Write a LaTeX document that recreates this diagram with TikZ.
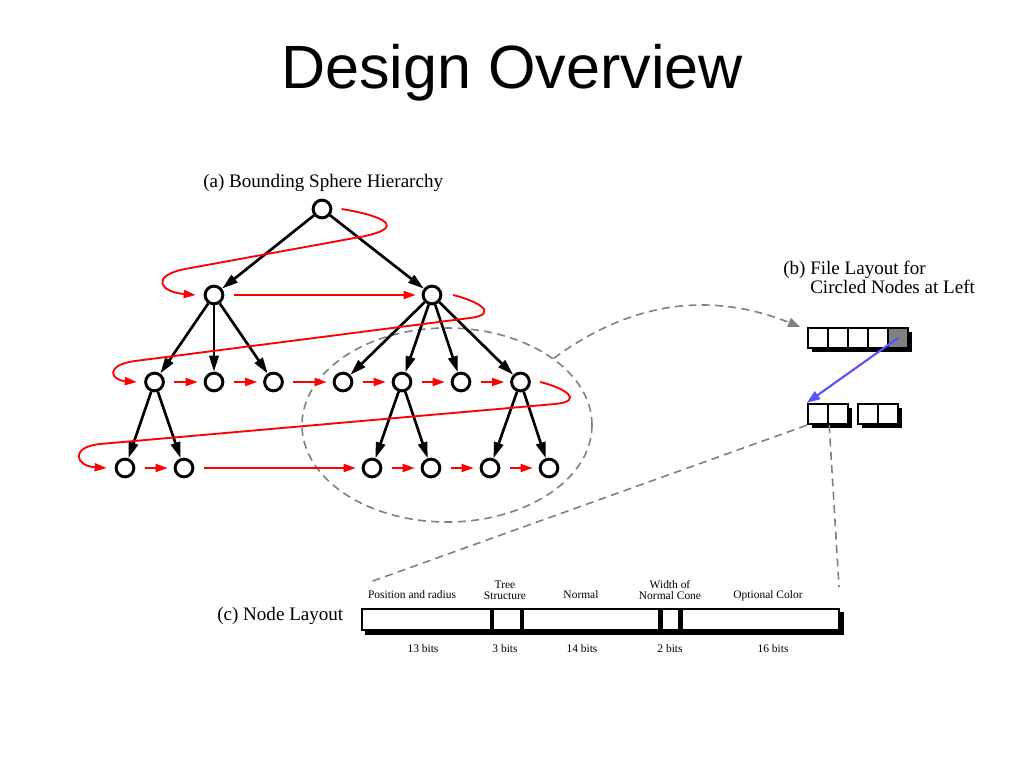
\documentclass[tikz,border=0pt]{standalone}
\usepackage{fontspec}
\setmainfont{Liberation Serif}
\newfontfamily\headfont{Liberation Sans}
\usetikzlibrary{arrows.meta,positioning,shapes.geometric,shadows,backgrounds}
\definecolor{linkblue}{RGB}{85,85,250}
\definecolor{guidegray}{RGB}{128,128,128}

\begin{document}
\begin{tikzpicture}[x=0.75pt,y=-0.75pt]
\tikzset{
  sphere/.style={circle,draw,line width=2.2pt,minimum size=13.3pt,inner sep=0pt},
  child/.style={line width=2pt,-{Triangle[length=12pt,width=7pt]}},
  order/.style={red,line width=1.4pt,-{Triangle[length=9pt,width=6pt]},shorten <=7pt,shorten >=4.5pt},
  wrap/.style={red,line width=1.4pt,-{Triangle[length=9pt,width=6pt]}},
  cell/.style={draw,fill=white,line width=1.8pt,minimum size=15pt,inner sep=0pt,
    general shadow={fill=black,shadow xshift=3pt,shadow yshift=-3pt}},
  field/.style={draw,fill=white,line width=1.6pt,minimum height=15.75pt,inner sep=0pt},
  caption/.style={font=\fontsize{14.3}{15}\selectfont,inner sep=0pt},
  small/.style={font=\fontsize{8.6}{8.3}\selectfont,inner sep=0pt,align=center},
  guide/.style={guidegray,line width=1.2pt,dash pattern=on 6pt off 4pt}
}
\useasboundingbox (0,0) rectangle (1024,768);

\node[font=\headfont\fontsize{45.8}{50}\selectfont,anchor=base,inner sep=0pt] (title) at (512,88) {Design Overview};

\node[caption,anchor=base west] (capa) at (203,187) {(a) Bounding Sphere Hierarchy};
\node[caption,anchor=base west] (capb) at (783,274) {(b) File Layout for};
\node[caption,anchor=base west] (capb2) at (810,293) {Circled Nodes at Left};
\node[caption,anchor=base west] (capc) at (217,620) {(c) Node Layout};

\node[ellipse,draw,guide,minimum width=217.5pt,minimum height=145.5pt,inner sep=0pt] (circled) at (447,425) {};

\node[sphere] (root) at (322,209) {};
\node[sphere] (l1a) at (214,295) {};
\node[sphere] (l1b) at (432,295) {};
\foreach \n/\x in {a/154.5,b/214,c/273.5,d/343,e/402,f/461,g/520.5}
  \node[sphere] (l2\n) at (\x,382) {};
\foreach \n/\x in {a/125,b/184,c/372,d/431,e/490,f/549}
  \node[sphere] (l3\n) at (\x,468) {};

\foreach \p/\c in {root/l1a,root/l1b,l1a/l2a,l1a/l2b,l1a/l2c,l1b/l2d,l1b/l2e,l1b/l2f,l1b/l2g,
    l2a/l3a,l2a/l3b,l2e/l3c,l2e/l3d,l2g/l3e,l2g/l3f}
  \draw[child] (\p) -- (\c);

\foreach \a/\b in {l1a/l1b,l2a/l2b,l2b/l2c,l2c/l2d,l2d/l2e,l2e/l2f,l2f/l2g,
    l3a/l3b,l3b/l3c,l3c/l3d,l3d/l3e,l3e/l3f}
  \draw[order] (\a) -- (\b);

\draw[wrap] ([xshift=7pt]root.east) .. controls (385,216) and (408,228) .. (360,237)
  -- (185,269) .. controls (150,276) and (160,292) .. ([xshift=-6pt]l1a.west);
\draw[wrap] ([xshift=8pt]l1b.east) .. controls (478,301) and (500,314) .. (470,318)
  -- (135,361) .. controls (105,365) and (110,380) .. ([xshift=-5.5pt]l2a.west);
\draw[wrap] ([xshift=7pt]l2g.east) .. controls (565,388) and (585,401) .. (555,404)
  -- (100,444) .. controls (70,447) and (75,466) .. ([xshift=-6pt]l3a.west);

\foreach \n/\x in {1/818,2/838,3/858,4/878}
  \node[cell] (r1c\n) at (\x,338) {};
\node[cell,fill=guidegray] (r1c5) at (898,338) {};
\foreach \n/\x in {1/818,2/838,3/868,4/888}
  \node[cell] (r2c\n) at (\x,414) {};

\draw[guide,-{Triangle[length=9pt,width=7pt]}] (circled.32) .. controls (640,295) and (720,295) .. ([xshift=-5pt]r1c1.north west);
\draw[linkblue,line width=1.6pt,-{Triangle[length=10pt,width=7pt]}] (r1c5.center) -- (r2c1.north west);

\node[field,minimum width=96.75pt,anchor=west] (pos) at (361,619.5) {};
\node[field,minimum width=21pt,right=0pt of pos] (tree) {};
\node[field,minimum width=102pt,right=0pt of tree] (normal) {};
\node[field,minimum width=13.5pt,right=0pt of normal] (cone) {};
\node[field,minimum width=117.75pt,right=0pt of cone] (color) {};
\begin{scope}[on background layer]
  \fill ([xshift=3pt,yshift=-3pt]pos.north west) rectangle ([xshift=3pt,yshift=-3pt]color.south east);
\end{scope}

\coordinate (layoutL) at (370,582);
\coordinate (layoutR) at (839,587);
\draw[guide] (r2c1.south west) -- (layoutL);
\draw[guide] (r2c1.south east) -- (layoutR);

\node[small,anchor=base] at (412,598) {Position and radius};
\node[small,anchor=south] at (505,600) {Tree\\Structure};
\node[small,anchor=base] at (581,598) {Normal};
\node[small,anchor=south] at (670,600) {Width of\\Normal Cone};
\node[small,anchor=base] at (768,598) {Optional Color};

\node[small,anchor=base] at (423,652) {13 bits};
\node[small,anchor=base] at (505,652) {3 bits};
\node[small,anchor=base] at (582,652) {14 bits};
\node[small,anchor=base] at (670,652) {2 bits};
\node[small,anchor=base] at (773,652) {16 bits};
\end{tikzpicture}
\end{document}
